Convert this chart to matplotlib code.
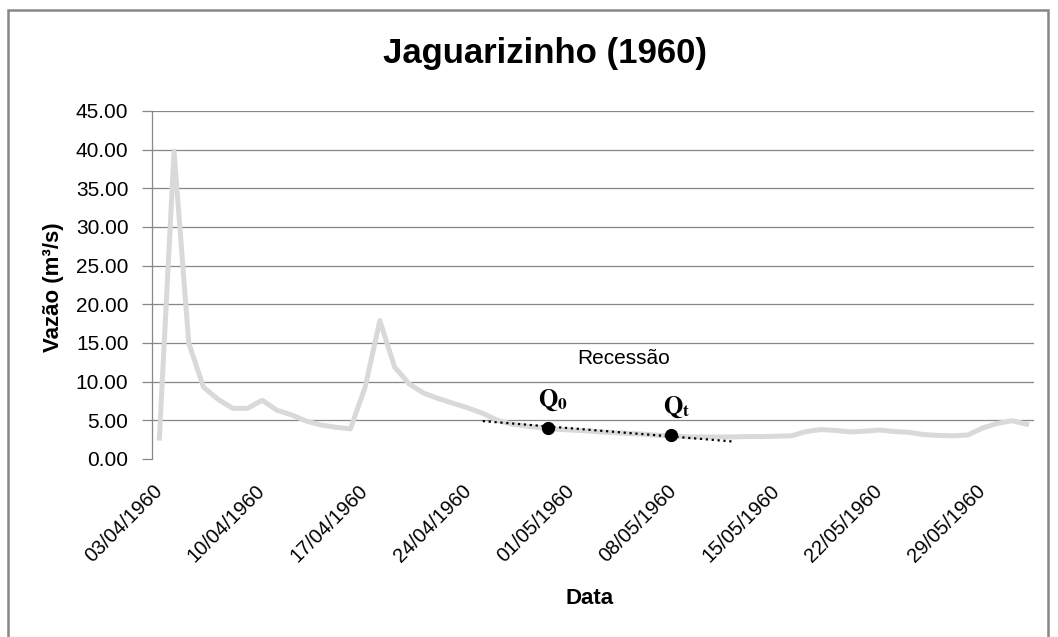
import pandas as pd
import matplotlib
matplotlib.use('Agg')
import matplotlib.dates as mdates
from matplotlib import pyplot as plt
from matplotlib.patches import Rectangle

plt.rcParams['font.family'] = ['Liberation Sans', 'DejaVu Sans']

# daily discharge, 03/04/1960 to 01/06/1960
inicio = '1960-04-03'
vazao = [2.7, 39.8, 15.0, 9.3, 7.7, 6.55, 6.55, 7.6, 6.3, 5.7,
         4.9, 4.4, 4.1, 3.9, 9.3, 17.9, 11.9, 9.7, 8.5, 7.8,
         7.2, 6.6, 5.9, 5.0, 4.5, 4.25, 4.05, 3.85, 3.75, 3.65,
         3.5, 3.4, 3.3, 3.2, 3.05, 3.0, 2.85, 2.85, 2.85, 2.85,
         2.9, 2.9, 2.95, 3.0, 3.55, 3.8, 3.7, 3.5, 3.6, 3.75,
         3.55, 3.45, 3.15, 3.05, 3.0, 3.1, 4.0, 4.6, 4.95, 4.5]

# recession markers and dotted line (drawn shapes in the original)
pontos_datas = ['1960-04-29 10:00', '1960-05-07 20:00']
pontos_vazao = [4.0, 3.05]
pontos_rotulos = [r'$\mathbf{Q}_{\mathbf{0}}$', r'$\mathbf{Q}_{\mathbf{t}}$']
recessao_datas = ['1960-04-25 00:00', '1960-05-12 04:00']
recessao_vazao = [4.9, 2.24]

rotulos_x = ['03/04/1960', '10/04/1960', '17/04/1960', '24/04/1960', '01/05/1960',
             '08/05/1960', '15/05/1960', '22/05/1960', '29/05/1960']
yticks = [0, 5, 10, 15, 20, 25, 30, 35, 40, 45]

datas = pd.date_range(inicio, periods=len(vazao), freq='D')
pontos_x = pd.to_datetime(pontos_datas)
recessao_x = pd.to_datetime(recessao_datas)
ticks_x = pd.to_datetime(rotulos_x, format='%d/%m/%Y')

W, H = 1058, 637
fig = plt.figure(figsize=(W / 100, H / 100), dpi=100)
ax = fig.add_axes([152 / W, 1 - 459 / H, (1034 - 152) / W, (459 - 111) / H])

grid_color = '#878787'
for y in yticks[1:]:
    ax.axhline(y, color=grid_color, linewidth=0.9, zorder=1)

ax.plot(datas, vazao, color='#d9d9d9', linewidth=3.6, zorder=2)
ax.plot(recessao_x, recessao_vazao, color='black', linestyle=':', linewidth=1.6, zorder=3)
ax.plot(pontos_x, pontos_vazao, 'o', color='black', markersize=8.5, zorder=4)

for xq, yq, lab in zip(pontos_x, pontos_vazao, pontos_rotulos):
    ax.annotate(lab, (xq, yq), xytext=(4, 11), textcoords='offset points',
                ha='center', va='bottom', fontsize=18, math_fontfamily='stix')

ax.text(pd.Timestamp('1960-05-04 14:00'), 13.0, 'Recessão', fontsize=15,
        ha='center', va='center')

ax.set_xlim(datas[0] - pd.Timedelta(hours=12), datas[-1] + pd.Timedelta(hours=12))
ax.set_ylim(0, 45)

ax.set_yticks(yticks)
ax.set_yticklabels(['%.2f' % v for v in yticks], fontsize=15)
ax.set_xticks(ticks_x)
ax.xaxis.set_major_formatter(mdates.DateFormatter('%d/%m/%Y'))
for lab in ax.get_xticklabels():
    lab.set_rotation(45)
    lab.set_ha('right')
    lab.set_va('center')
    lab.set_rotation_mode('anchor')
    lab.set_fontsize(14.5)

ax.tick_params(axis='x', length=0, pad=21)
ax.tick_params(axis='y', length=7, width=0.9, color=grid_color, direction='out', pad=10)

for s in ['top', 'right', 'bottom']:
    ax.spines[s].set_visible(False)
ax.spines['left'].set_color(grid_color)
ax.spines['left'].set_linewidth(0.9)

fig.text(545 / W, 1 - 53 / H, 'Jaguarizinho (1960)', fontsize=25, fontweight='bold',
         ha='center', va='center')
fig.text(53 / W, 1 - 287 / H, 'Vazão (m³/s)', fontsize=16, fontweight='bold',
         rotation=90, ha='center', va='center')
fig.text(590 / W, 1 - 598 / H, 'Data', fontsize=16, fontweight='bold',
         ha='center', va='center')

# outer chart border
fig.patches.append(Rectangle((8 / W, -0.02), (1048 - 8) / W, 1.02 - 10 / H,
                             transform=fig.transFigure, fill=False,
                             edgecolor='#878787', linewidth=1.8))

fig.savefig('out.png', dpi=100)
